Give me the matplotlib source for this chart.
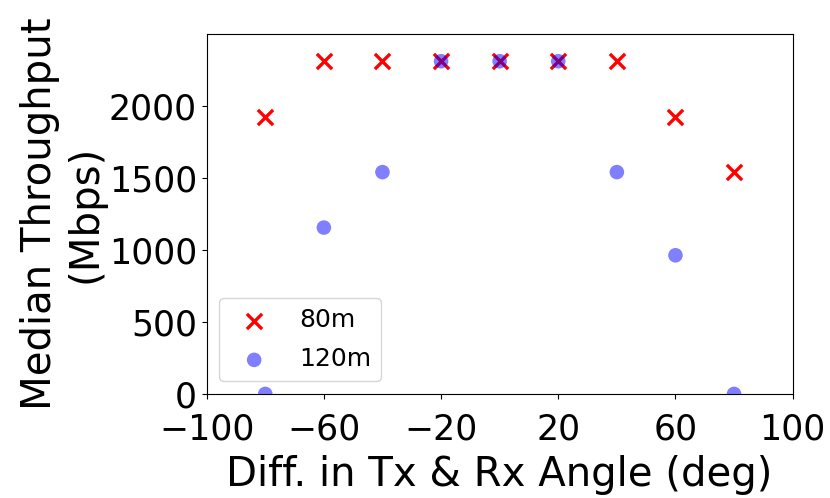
import matplotlib
matplotlib.use("Agg")
import matplotlib.pyplot as plt

angles = [-80, -60, -40, -20, 0, 20, 40, 60, 80]
tput_80m = [1925, 2310, 2310, 2310, 2310, 2310, 2310, 1925, 1540]
tput_120m = [0, 1155, 1540, 2310, 2310, 2310, 1540, 962.5, 0]
xticks = [-100, -60, -20, 20, 60, 100]

fig = plt.figure(figsize=(8.3, 4.98), dpi=100)
ax = fig.add_axes([0.249, 0.209, 0.706, 0.723])
ax.scatter(angles, tput_80m, marker='x', color='red', s=120, linewidths=2.4, label='80m', zorder=2)
ax.scatter(angles, tput_120m, marker='o', color='blue', alpha=0.5, s=110, edgecolors='none', label='120m', zorder=3)
ax.set_xlim(-100, 100)
ax.set_ylim(0, 2500)
ax.set_xticks(xticks)
ax.set_yticks([0, 500, 1000, 1500, 2000])
ax.tick_params(labelsize=25)
ax.tick_params(axis='x', pad=10)
ax.set_xlabel('Diff. in Tx & Rx Angle (deg)', fontsize=29, labelpad=6)
ax.set_ylabel('Median Throughput\n(Mbps)', fontsize=29, labelpad=2)
ax.legend(loc='lower left', fontsize=18, labelspacing=0.6)
fig.savefig('out.png', dpi=100)
